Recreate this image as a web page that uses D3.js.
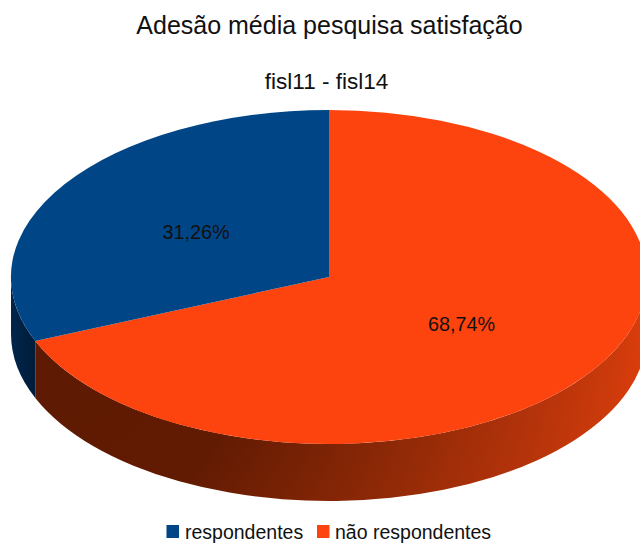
<!DOCTYPE html>
<html>
<head>
<meta charset="utf-8">
<script src="https://cdn.jsdelivr.net/npm/d3@7"></script>
<style>
html,body{margin:0;padding:0;background:#fff}
svg{display:block}
text{font-family:"Liberation Sans",Arial,sans-serif;fill:#111}
</style>
</head>
<body>
<svg id="chart" width="640" height="544"></svg>
<script>
const categories = ["não respondentes", "respondentes"];
const values = [68.74, 31.26];
const valueLabels = ["68,74%", "31,26%"];
const legendOrder = ["respondentes", "não respondentes"];
const colors = ["#fd430e", "#004586"];
const sideStops = [
  [["0", "#5c1902"], ["0.4", "#621b03"], ["0.62", "#882706"], ["0.82", "#b0320a"], ["0.95", "#cc3a0b"], ["1", "#de3d0c"]],
  [["0", "#00264c"], ["1", "#001c39"]]
];

const svg = d3.select("#chart");
const cx = 329, cy = 277, rx = 318, ry = 167, depth = 57;

const pie = d3.pie().sort(null).value(d => d)(values);
const px = a => cx + rx * Math.sin(a);
const py = a => cy - ry * Math.cos(a);
const color = d3.scaleOrdinal(categories, colors);

// Rim shading: light falls off radially for the large slice, sideways for the small one
const defs = svg.append("defs");
const rimFill0 = defs.append("radialGradient").attr("id", "rim0")
  .attr("gradientUnits", "userSpaceOnUse")
  .attr("cx", 0).attr("cy", 300).attr("r", 650);
const rimFill1 = defs.append("linearGradient").attr("id", "rim1")
  .attr("gradientUnits", "userSpaceOnUse")
  .attr("x1", cx - rx).attr("x2", px(pie[0].endAngle)).attr("y1", 0).attr("y2", 0);
[rimFill0, rimFill1].forEach((g, i) => {
  g.selectAll("stop").data(sideStops[i]).join("stop")
    .attr("offset", d => d[0]).attr("stop-color", d => d[1]);
});

// Rim: only the part of a slice facing the viewer (lower half of the ellipse)
const rimPath = d => {
  const a0 = Math.max(d.startAngle, Math.PI / 2);
  const a1 = Math.min(d.endAngle, 3 * Math.PI / 2);
  const large = a1 - a0 > Math.PI ? 1 : 0;
  return `M${px(a0)},${py(a0)}A${rx},${ry} 0 ${large} 1 ${px(a1)},${py(a1)}` +
         `L${px(a1)},${py(a1) + depth}A${rx},${ry} 0 ${large} 0 ${px(a0)},${py(a0) + depth}Z`;
};
svg.append("g").selectAll("path").data(pie).join("path")
  .attr("d", rimPath)
  .attr("fill", (d, i) => `url(#rim${i})`);

// Top face: a flat pie squashed vertically into an ellipse
const arc = d3.arc().innerRadius(0).outerRadius(1);
svg.append("g")
  .attr("transform", `translate(${cx},${cy}) scale(${rx},${ry})`)
  .selectAll("path").data(pie).join("path")
  .attr("d", arc)
  .attr("fill", (d, i) => color(categories[i]));

// Value labels
const labelAnchors = [[461.5, 324], [196, 232]];
svg.append("g").selectAll("text").data(valueLabels).join("text")
  .attr("x", (d, i) => labelAnchors[i][0])
  .attr("y", (d, i) => labelAnchors[i][1])
  .attr("dy", "0.35em")
  .attr("text-anchor", "middle")
  .attr("font-size", 19.8)
  .text(d => d);

svg.append("text").attr("x", 329.5).attr("y", 34).attr("text-anchor", "middle")
  .attr("font-size", 25).text("Adesão média pesquisa satisfação");
svg.append("text").attr("x", 326.5).attr("y", 89).attr("text-anchor", "middle")
  .attr("font-size", 22.5).text("fisl11 - fisl14");

// Legend
const legendItems = [[166.5, 185], [317, 335]];
const legend = svg.append("g").selectAll("g").data(legendOrder).join("g");
legend.append("rect")
  .attr("x", (d, i) => legendItems[i][0]).attr("y", 525)
  .attr("width", 12.5).attr("height", 13)
  .attr("fill", d => color(d));
legend.append("text")
  .attr("x", (d, i) => legendItems[i][1]).attr("y", 539)
  .attr("font-size", 19.5)
  .text(d => d);
</script>
</body>
</html>
